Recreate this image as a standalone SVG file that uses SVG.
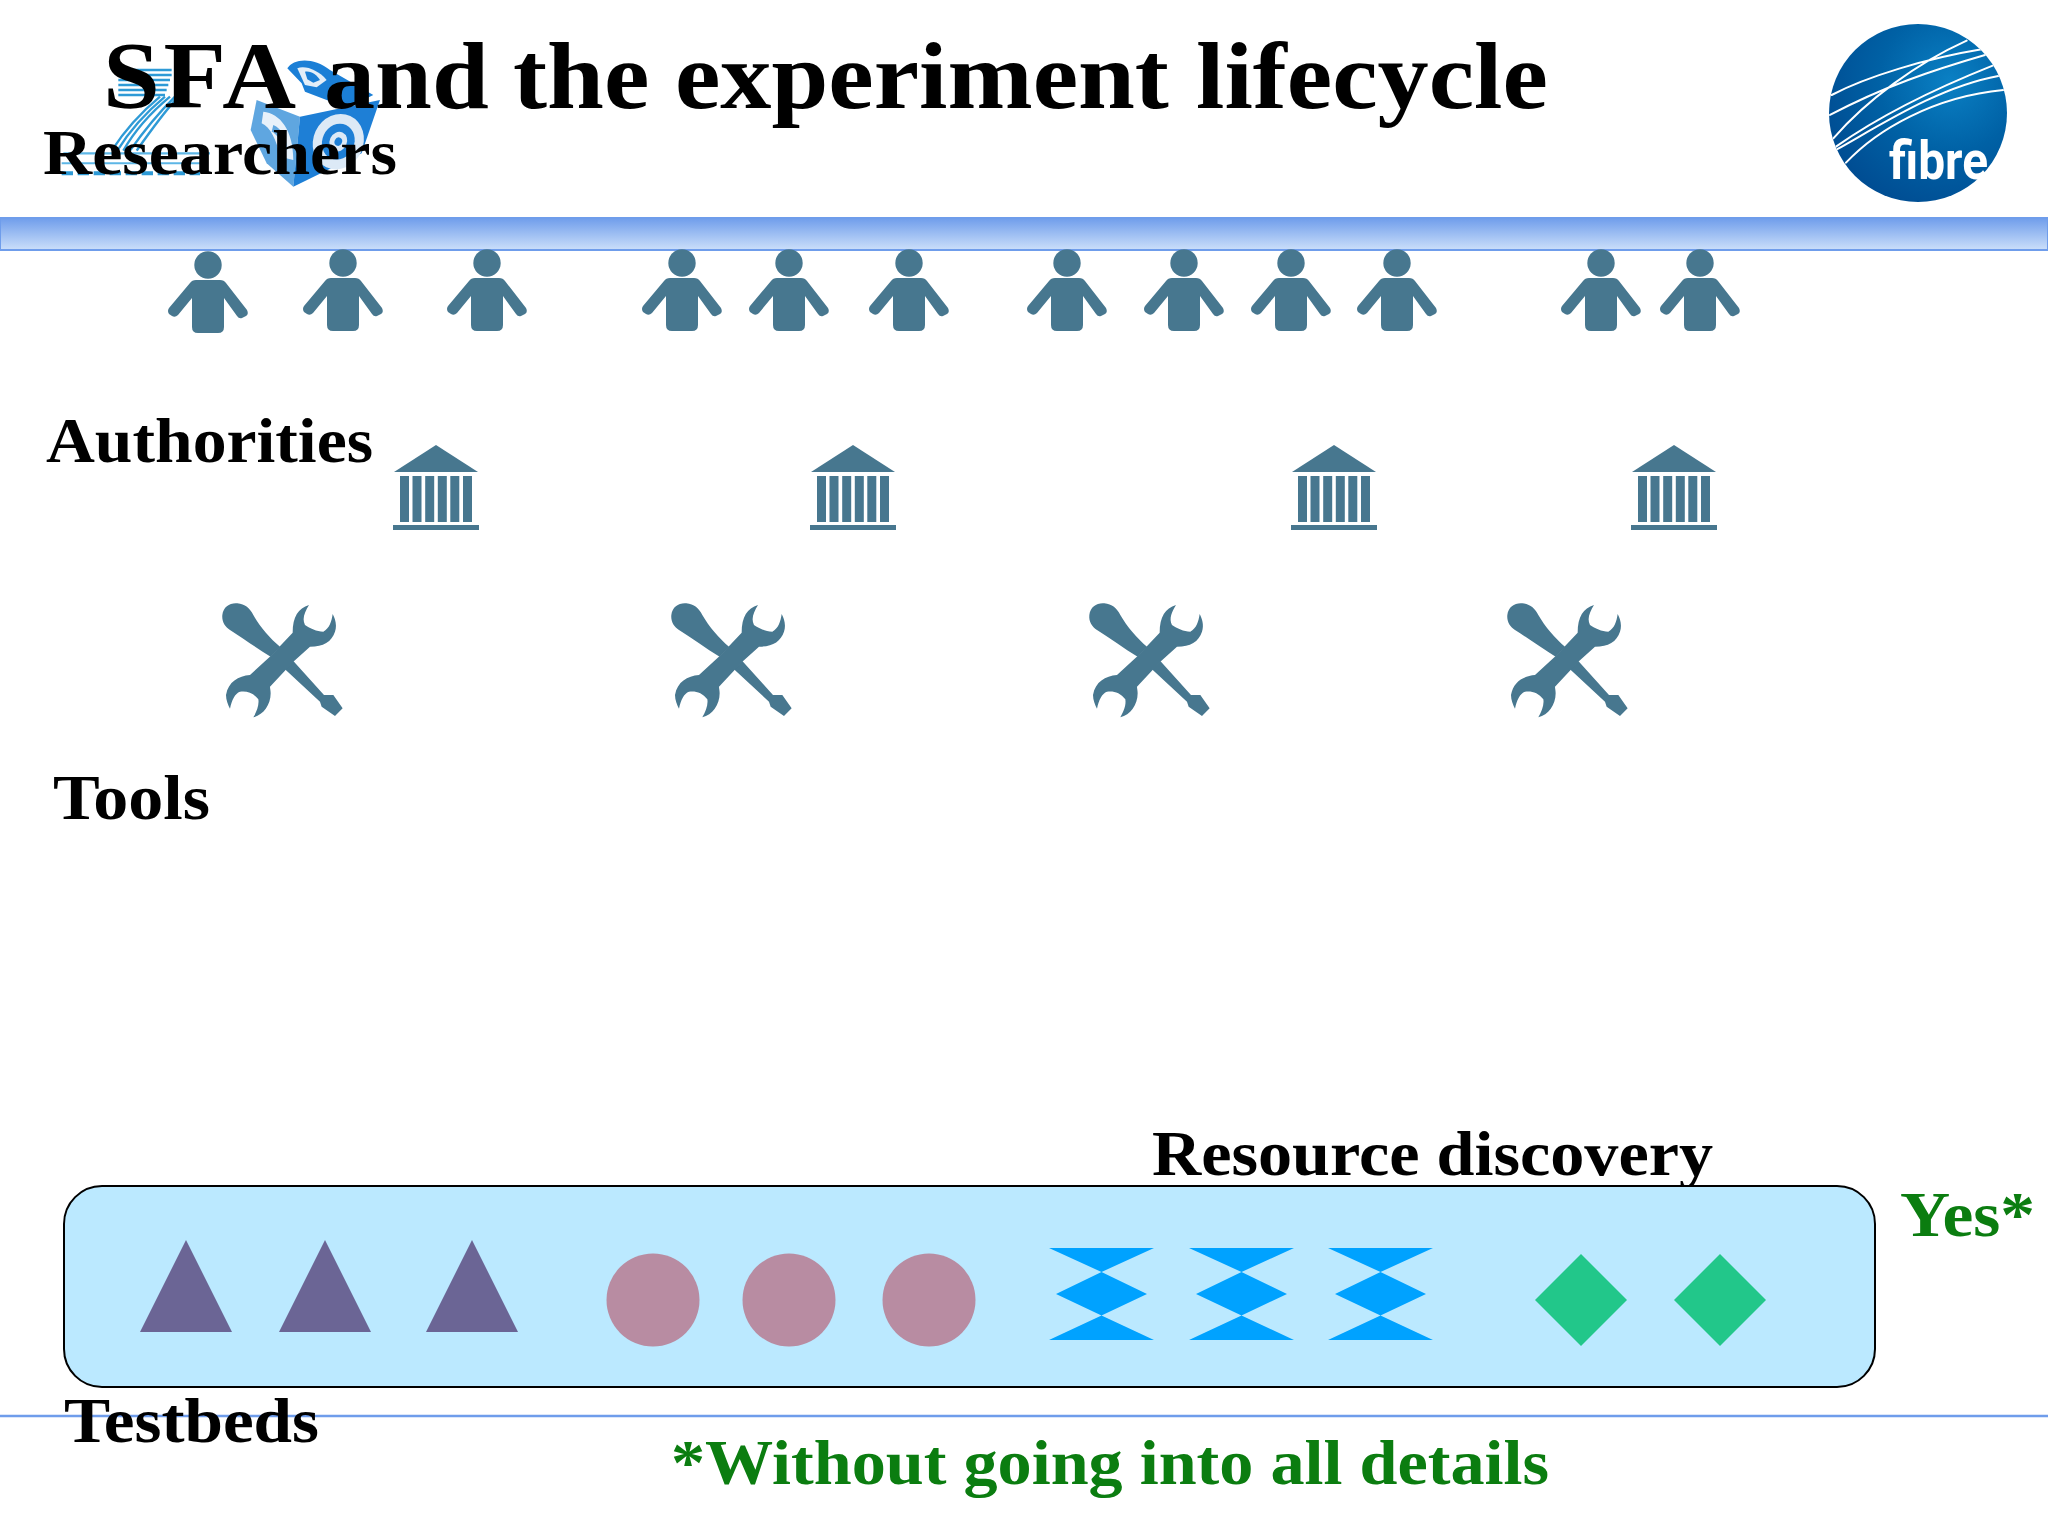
<svg xmlns="http://www.w3.org/2000/svg" xmlns:xlink="http://www.w3.org/1999/xlink" width="2048" height="1536" viewBox="0 0 2048 1536">
<style>
.t{font-family:"Liberation Serif","Times New Roman",serif;font-weight:bold;fill:#000}
.g{fill:#0B7D10}
.ic{fill:#47778F}
.tri{fill:#6B6595}
.cir{fill:#B88CA2}
.hg{fill:#00A2FF}
.dia{fill:#22C78A}
.fl{fill:none;stroke:#fff;stroke-width:6;stroke-linecap:round}
</style>
<defs>
<linearGradient id="band" x1="0" y1="0" x2="0" y2="1"><stop offset="0" stop-color="#6F9DEB"/><stop offset="1" stop-color="#CBDFFA"/></linearGradient>
<radialGradient id="fib" cx="0.68" cy="0.32" r="0.8"><stop offset="0" stop-color="#0A80C4"/><stop offset="0.5" stop-color="#0061A5"/><stop offset="1" stop-color="#004A90"/></radialGradient>
<clipPath id="fc"><circle cx="1918" cy="113" r="89"/></clipPath>
<g id="person">
<circle cx="0" cy="0" r="13.700"/>
<path d="M-12 15H12Q16 15 18 18L39 45Q41 49 38 51L34 53Q31 54 29 51L16 33V62Q16 68 10 68H-10Q-16 68 -16 62V33L-30 50Q-33 53 -36 51L-39 49Q-41 46 -39 43L-18 18Q-16 15 -12 15Z"/>
</g>
<g id="bank">
<path d="M0 0L42 27H-42Z"/>
<path d="M-36 31h9v46h-9zM-23.500 31h9v46h-9zM-10.800 31h9v46h-9zM1.800 31h9v46h-9zM14.300 31h9v46h-9zM27 31h9v46h-9z"/>
<rect x="-43" y="80" width="86" height="5"/>
</g>
<g id="tool">
<path transform="translate(-82 -77) scale(.3333)" d="M67 105C70 80 90 68 112 70C135 72 150 85 160 105C180 140 210 175 240 200L212 230C170 205 130 175 90 150C75 140 65 125 67 105ZM255 268L280 243L372 345L400 345L428 385L405 408L365 380L360 365Z"/>
<path transform="translate(-82 -77) scale(.3333)" d="M327 75C295 85 278 110 278 158L212 228L150 285C115 288 85 305 78 345C78 360 84 375 90 386C95 360 105 340 120 335C140 332 160 338 175 358C178 375 170 395 160 412C190 405 212 375 212 340C212 330 210 325 210 320L280 245L330 200C370 200 395 185 405 155C412 135 405 115 398 102C395 125 388 145 370 155C350 155 330 145 315 135C305 115 315 95 327 75Z"/>
</g>
<path id="tr" d="M0 0L46 92H-46Z"/>
<path id="hour" d="M-52 0H53L0.500 24L46 46L0.500 67.500L53 92H-52L0.500 67.500L-45 46L0.500 24Z"/>
<path id="di" d="M0 -46L46 0L0 46L-46 0Z"/>
</defs>
<rect width="2048" height="1536" fill="#fff"/>
<g id="logo-fp7" transform="translate(60 0) scale(.3333)" fill="none" stroke="#2E9AD6" stroke-width="7">
<path d="M175 210H335M175 225H335M175 240H330M175 255H325M175 270H320M175 285H315"/>
<path d="M330 290C270 340 225 390 190 452M315 290C255 340 210 390 172 452M345 290C290 345 250 395 210 452M300 290C240 340 195 390 155 452M355 290C305 345 270 395 230 452"/>
<path d="M10 460H450" stroke="#5DB6E6"/>
<path d="M5 490H420" stroke="#5DB6E6" stroke-width="6"/>
<path d="M5 520H420" stroke-width="12" stroke-dasharray="34 14"/>
</g>
<g id="logo-cube" transform="translate(60 0) scale(.3333)">
<path d="M600 240L680 210L700 180L760 180L850 225L960 300L905 460L700 560L575 390Z" fill="#fff"/>
<path d="M682 205C700 175 760 170 810 210L940 285L860 325L800 300L735 275L725 250Z" fill="#1B7FD6"/>
<path d="M712 205C735 195 775 210 800 240L770 262L735 255Z" fill="#E3EEF8"/>
<path d="M735 215C755 212 770 225 780 240L760 248L742 238Z" fill="#1B7FD6"/>
<path d="M590 300L720 350L700 560L620 490L572 390Z" fill="#5FA6E0"/>
<path d="M610 335C660 340 700 390 700 480L660 470C650 420 630 380 605 370Z" fill="#E8F1FA"/>
<path d="M640 375C665 385 680 415 682 450L665 445C660 420 650 400 635 395Z" fill="#5FA6E0"/>
<path d="M720 350L960 300L905 460L700 560Z" fill="#1E7FD6"/>
<ellipse cx="835" cy="425" rx="75" ry="85" transform="rotate(25 835 425)" fill="#DCE9F6"/>
<ellipse cx="835" cy="425" rx="48" ry="55" transform="rotate(25 835 425)" fill="#1E7FD6"/>
<ellipse cx="835" cy="425" rx="26" ry="30" transform="rotate(25 835 425)" fill="#DCE9F6"/>
<ellipse cx="835" cy="425" rx="11" ry="13" transform="rotate(25 835 425)" fill="#1E7FD6"/>
</g>
<g id="logo-fibre">
<circle cx="1918" cy="113" r="89" fill="url(#fib)"/>
<g clip-path="url(#fc)">
<g transform="translate(1800 0) scale(.3333)" class="fl">
<path d="M95 285C200 230 380 175 545 148M90 345C250 260 400 210 555 165M100 415C200 300 350 190 500 122M108 440C250 340 420 260 578 197M113 447C250 370 420 260 595 228M138 488C230 390 400 290 610 270"/>
</g>
</g>
<text x="1889" y="179" font-family="'Roboto','Open Sans',sans-serif" font-size="54" font-weight="700" fill="#fff" textLength="99" lengthAdjust="spacingAndGlyphs">fibre</text>
</g>
<rect id="top-band" x="0" y="218" width="2048" height="32" fill="url(#band)" stroke="#6F9DEB" stroke-width="2"/>
<path id="bottom-line" d="M0 1416H2048" stroke="#6F9DEB" stroke-width="2.500"/>
<text id="title" class="t" transform="scale(1.065 1)" y="108" font-size="96"><tspan x="96.700" letter-spacing="3.500">SFA</tspan> <tspan x="304.200">and</tspan> <tspan x="481.700">the</tspan> <tspan x="633.800">experiment</tspan> <tspan x="1123">lifecycle</tspan></text>
<text id="label-researchers" class="t" x="43" y="174" font-size="64" textLength="354" lengthAdjust="spacingAndGlyphs">Researchers</text>
<text id="label-authorities" class="t" x="46" y="462" font-size="64" textLength="327" lengthAdjust="spacingAndGlyphs">Authorities</text>
<text id="label-tools" class="t" x="53" y="819" font-size="64" textLength="157" lengthAdjust="spacingAndGlyphs">Tools</text>
<text id="label-resource" class="t" x="1152" y="1175" font-size="64" textLength="561" lengthAdjust="spacingAndGlyphs">Resource discovery</text>
<text id="label-testbeds" class="t" x="64" y="1442" font-size="64" textLength="255" lengthAdjust="spacingAndGlyphs">Testbeds</text>
<text id="label-yes" class="t g" x="1900" y="1236" font-size="64" textLength="135" lengthAdjust="spacingAndGlyphs">Yes*</text>
<text id="label-note" class="t g" x="671" y="1484" font-size="64" textLength="878" lengthAdjust="spacingAndGlyphs">*Without going into all details</text>
<g id="researchers" class="ic">
<use id="r1" href="#person" x="208" y="265"/>
<use id="r2" href="#person" x="343" y="263"/>
<use id="r3" href="#person" x="487" y="263"/>
<use id="r4" href="#person" x="682" y="263"/>
<use id="r5" href="#person" x="789" y="263"/>
<use id="r6" href="#person" x="909" y="263"/>
<use id="r7" href="#person" x="1067" y="263"/>
<use id="r8" href="#person" x="1184" y="263"/>
<use id="r9" href="#person" x="1291" y="263"/>
<use id="r10" href="#person" x="1397" y="263"/>
<use id="r11" href="#person" x="1601" y="263"/>
<use id="r12" href="#person" x="1700" y="263"/>
</g>
<g id="authorities" class="ic">
<use id="a1" href="#bank" x="436" y="445"/>
<use id="a2" href="#bank" x="853" y="445"/>
<use id="a3" href="#bank" x="1334" y="445"/>
<use id="a4" href="#bank" x="1674" y="445"/>
</g>
<g id="tools" class="ic">
<use id="tool1" href="#tool" x="282" y="657"/>
<use id="tool2" href="#tool" x="731" y="657"/>
<use id="tool3" href="#tool" x="1149" y="657"/>
<use id="tool4" href="#tool" x="1567" y="657"/>
</g>
<g id="testbeds">
<rect id="testbed-box" x="64" y="1186" width="1811" height="201" rx="38" fill="#BBE9FF" stroke="#000" stroke-width="2"/>
<use id="t1" class="tri" href="#tr" x="186" y="1240"/>
<use id="t2" class="tri" href="#tr" x="325" y="1240"/>
<use id="t3" class="tri" href="#tr" x="472" y="1240"/>
<circle id="c1" class="cir" cx="653" cy="1300" r="46.500"/>
<circle id="c2" class="cir" cx="789" cy="1300" r="46.500"/>
<circle id="c3" class="cir" cx="929" cy="1300" r="46.500"/>
<use id="h1" class="hg" href="#hour" x="1101" y="1248"/>
<use id="h2" class="hg" href="#hour" x="1241" y="1248"/>
<use id="h3" class="hg" href="#hour" x="1380" y="1248"/>
<use id="d1" class="dia" href="#di" x="1581" y="1300"/>
<use id="d2" class="dia" href="#di" x="1720" y="1300"/>
</g>
</svg>
